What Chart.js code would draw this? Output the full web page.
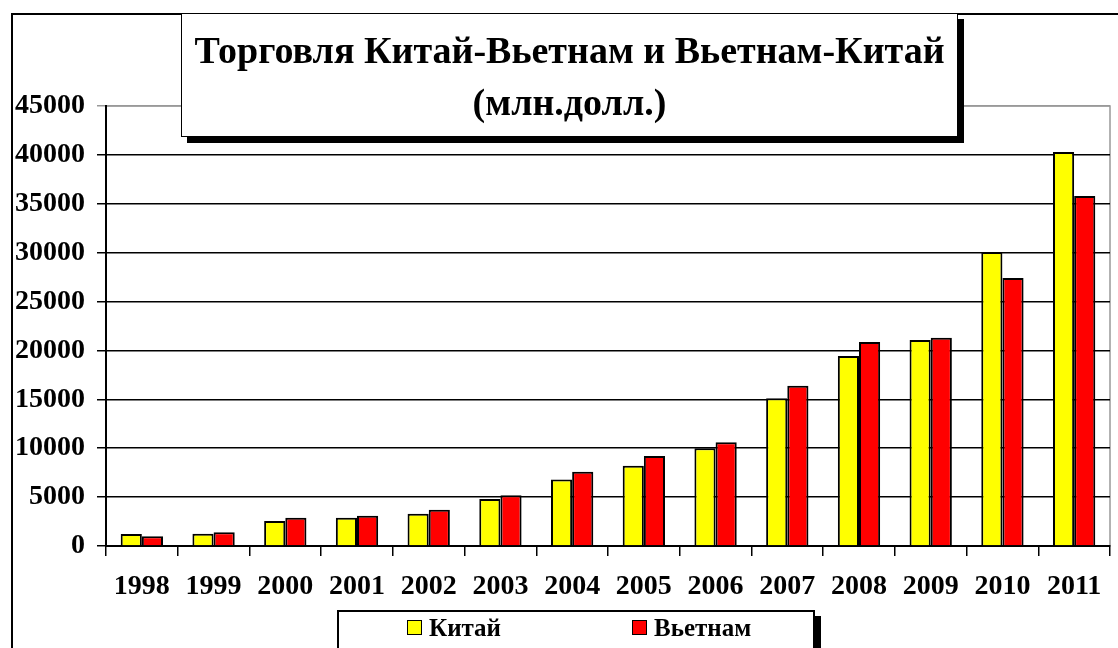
<!DOCTYPE html>
<html lang="ru">
<head>
  <meta charset="UTF-8">
  <title>Торговля Китай-Вьетнам</title>
  <script src="https://cdn.jsdelivr.net/npm/chart.js"></script>
  <style>
    body { margin: 0; background: #fff; }
    #wrap { position: relative; width: 1118px; height: 648px; overflow: hidden; }
    #frame { position: absolute; left: 11px; top: 13px; width: 1120px; height: 660px; border: 2px solid #000; box-sizing: border-box; }
    #title {
      position: absolute; left: 181px; top: 13px; width: 777px; height: 124px;
      box-sizing: border-box; border: 1.5px solid #000; background: #fff;
      box-shadow: 6px 6px 0 #000;
      font: bold 38px "Liberation Serif", "Times New Roman", serif;
      text-align: center; line-height: 52px; padding-top: 10px;
    }
    #legend {
      position: absolute; left: 337px; top: 610px; width: 478px; height: 60px;
      box-sizing: border-box; border: 2px solid #000; background: #fff;
      box-shadow: 6px 6px 0 #000;
      font: bold 25px "Liberation Serif", "Times New Roman", serif;
    }
    #legend span.item { position: absolute; top: 2px; white-space: nowrap; }
    #legend i { display: inline-block; width: 13px; height: 13px; border: 1.5px solid #000; margin-right: 7px; vertical-align: 1px; }
  </style>
</head>
<body>
  <div id="wrap">
    <canvas id="tradeChart" width="1118" height="648"></canvas>
    <div id="frame"></div>
    <div id="title">Торговля Китай-Вьетнам и Вьетнам-Китай<br>(млн.долл.)</div>
    <div id="legend"></div>
  </div>

  <script>
    const years = ['1998', '1999', '2000', '2001', '2002', '2003', '2004',
                   '2005', '2006', '2007', '2008', '2009', '2010', '2011'];
    const china = [1230, 1250, 2550, 2900, 3300, 4800, 6800,
                   8200, 10000, 15100, 19430, 21060, 30060, 40290];
    const vietnam = [1000, 1400, 2900, 3100, 3700, 5200, 7600,
                     9200, 10600, 16390, 20860, 21300, 27400, 35790];
    const seriesNames = ['Китай', 'Вьетнам'];
    const seriesColors = ['#ffff00', '#ff0000'];

    const fontFamily = '"Liberation Serif", "Times New Roman", serif';

    // серая рамка области построения
    const plotFrame = {
      id: 'plotFrame',
      beforeDraw(chart) {
        const a = chart.chartArea, c = chart.ctx;
        c.save();
        c.strokeStyle = '#999';
        c.lineWidth = 1.5;
        c.strokeRect(a.left, a.top, a.right - a.left, a.bottom - a.top);
        c.restore();
      }
    };

    const ctx = document.getElementById('tradeChart').getContext('2d');
    const chart = new Chart(ctx, {
      type: 'bar',
      data: {
        labels: years,
        datasets: [china, vietnam].map((d, i) => ({
          label: seriesNames[i],
          data: d,
          backgroundColor: seriesColors[i],
          borderColor: '#000',
          borderWidth: 2,
          barPercentage: 1,
          categoryPercentage: 0.59
        }))
      },
      options: {
        responsive: false,
        animation: false,
        layout: { padding: { top: 106, right: 8, left: 0, bottom: 0 } },
        plugins: { legend: { display: false }, title: { display: false }, tooltip: { enabled: false } },
        scales: {
          x: {
            grid: { offset: true, drawOnChartArea: false, color: '#000', lineWidth: 1.5, tickLength: 10 },
            border: { color: '#000', width: 2 },
            ticks: { color: '#000', padding: 14, font: { family: fontFamily, size: 28, weight: 'bold' } },
            afterFit(s) { s.height = 102; }
          },
          y: {
            min: 0,
            max: 45000,
            ticks: {
              stepSize: 5000, color: '#000', padding: 12,
              font: { family: fontFamily, size: 28, weight: 'bold' },
              callback: v => String(v)
            },
            grid: {
              color: c => c.tick && c.tick.value === 45000 ? '#999' : '#000',
              lineWidth: 1.5,
              tickLength: 9
            },
            border: { color: '#000', width: 2 },
            afterFit(s) { s.width = 106; }
          }
        }
      },
      plugins: [plotFrame]
    });

    // легенда в рамке
    const legend = document.getElementById('legend');
    const legendX = [68, 293];
    chart.data.datasets.forEach((ds, i) => {
      const s = document.createElement('span');
      s.className = 'item';
      s.style.left = legendX[i] + 'px';
      s.innerHTML = '<i style="background:' + ds.backgroundColor + '"></i>' + ds.label;
      legend.appendChild(s);
    });
  </script>
</body>
</html>
